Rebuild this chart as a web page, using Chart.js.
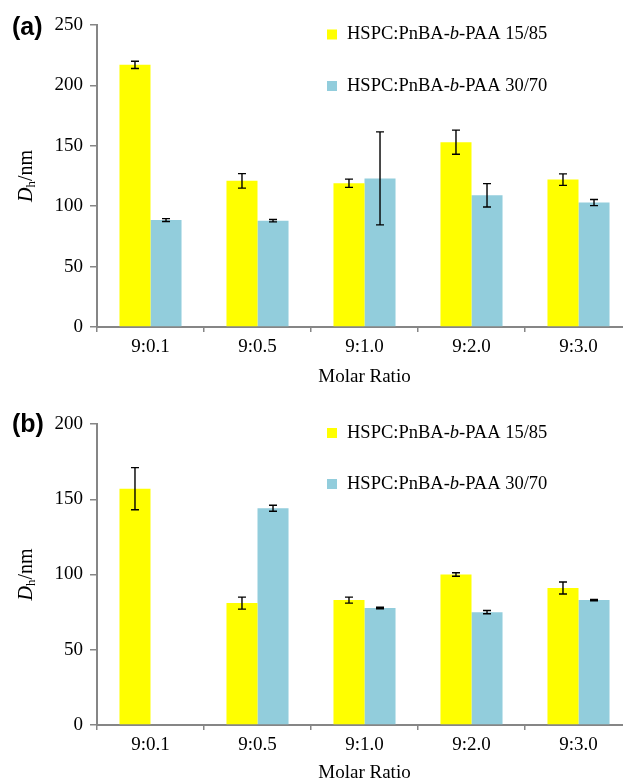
<!DOCTYPE html>
<html>
<head>
<meta charset="utf-8">
<script src="https://cdn.jsdelivr.net/npm/chart.js@4"></script>
<style>
  html, body { margin: 0; padding: 0; background: #fff; overflow: hidden; width: 623px; height: 784px; }
  .box { width: 640px; height: 392px; }
  canvas { display: block; }
</style>
</head>
<body>
<div class="box"><canvas id="chartA" width="640" height="392"></canvas></div>
<div class="box"><canvas id="chartB" width="640" height="392"></canvas></div>
<script>
const ratios = ["9:0.1", "9:0.5", "9:1.0", "9:2.0", "9:3.0"];
const seriesNames = ["HSPC:PnBA-b-PAA 15/85", "HSPC:PnBA-b-PAA 30/70"];

// panel (a)
const sizeA1585 = [217, 121, 119, 153, 122];
const errA1585 = [3, 6, 3.4, 10, 4.8];
const sizeA3070 = [88.5, 88, 123, 109, 103];
const errA3070 = [1.2, 1, 38.5, 9.7, 2.5];
const ticksA = [0, 50, 100, 150, 200, 250];

// panel (b)
const sizeB1585 = [157, 81, 83, 100, 91];
const errB1585 = [14, 4, 2, 1.2, 4];
const sizeB3070 = [null, 144, 77.7, 75, 83];
const errB3070 = [null, 2, 0.5, 1.1, 0.4];
const ticksB = [0, 50, 100, 150, 200];

const colors = ["#FFFF00", "#92CDDC"];
const axisGray = "#868686";
const serif = '"Liberation Serif", "Times New Roman", serif';

// draws a row of text pieces with their own fonts, returns the width
function richText(ctx, x, y, parts, measureOnly) {
  let w = 0;
  parts.forEach(p => {
    ctx.font = p.font;
    if (!measureOnly) ctx.fillText(p.text, x + w, y + (p.dy || 0));
    w += ctx.measureText(p.text).width;
  });
  return w;
}

function labelParts(name) {
  const i = name.indexOf("-b-");
  return [
    { font: "18.5px " + serif, text: name.slice(0, i + 1) },
    { font: "italic 18.5px " + serif, text: "b" },
    { font: "18.5px " + serif, text: name.slice(i + 2) }
  ];
}

const errorBars = {
  id: "errorBars",
  afterDatasetsDraw(chart) {
    const ctx = chart.ctx, y = chart.scales.y;
    ctx.save();
    ctx.strokeStyle = "#000";
    ctx.lineWidth = 1.4;
    chart.data.datasets.forEach((ds, di) => {
      const meta = chart.getDatasetMeta(di);
      ds.errors.forEach((e, i) => {
        const v = ds.data[i];
        if (v == null || e == null) return;
        const x = meta.data[i].x;
        const top = y.getPixelForValue(v + e);
        const bot = y.getPixelForValue(v - e);
        ctx.beginPath();
        ctx.moveTo(x, top); ctx.lineTo(x, bot);
        ctx.moveTo(x - 4, top); ctx.lineTo(x + 4, top);
        ctx.moveTo(x - 4, bot); ctx.lineTo(x + 4, bot);
        ctx.stroke();
      });
    });
    ctx.restore();
  }
};

const decor = {
  id: "decor",
  afterDraw(chart, args, o) {
    const ctx = chart.ctx, area = chart.chartArea;
    ctx.save();
    ctx.fillStyle = "#000";
    ctx.textBaseline = "middle";
    ctx.textAlign = "left";

    // panel letter
    ctx.font = 'bold 25px "Liberation Sans", Arial, sans-serif';
    ctx.fillText(o.panel, 12, o.panelY);

    // legend
    chart.data.datasets.forEach((ds, i) => {
      const ly = o.legendY[i];
      ctx.fillStyle = ds.backgroundColor;
      ctx.fillRect(327, ly - 5, 10, 10);
      ctx.fillStyle = "#000";
      richText(ctx, 347, ly, labelParts(ds.label));
    });

    // y axis title: D_h/nm
    const parts = [
      { font: "italic 20px " + serif, text: "D" },
      { font: "13px " + serif, text: "h", dy: 5 },
      { font: "20px " + serif, text: "/nm" }
    ];
    ctx.translate(27, (area.top + area.bottom) / 2);
    ctx.rotate(-Math.PI / 2);
    const w = richText(ctx, 0, 0, parts, true);
    richText(ctx, -w / 2, 0, parts);
    ctx.restore();
  }
};

function makeChart(id, s1, e1, s2, e2, ticks, maxY, padTop, xHeight, titleBottom, panel, panelY, legendY) {
  return new Chart(document.getElementById(id), {
    type: "bar",
    data: {
      labels: ratios,
      datasets: [
        { label: seriesNames[0], data: s1, errors: e1, backgroundColor: colors[0], borderWidth: 0 },
        { label: seriesNames[1], data: s2, errors: e2, backgroundColor: colors[1], borderWidth: 0 }
      ]
    },
    options: {
      responsive: false,
      animation: false,
      categoryPercentage: 0.58,
      barPercentage: 1.0,
      layout: { padding: { top: padTop, right: 8, left: 0, bottom: 0 } },
      plugins: {
        legend: { display: false },
        tooltip: { enabled: false },
        decor: { panel: panel, panelY: panelY, legendY: legendY }
      },
      scales: {
        x: {
          border: { color: axisGray, width: 2 },
          grid: { display: true, drawOnChartArea: false, offset: true, tickLength: 5, color: axisGray, lineWidth: 1.5 },
          ticks: { font: { family: serif, size: 19 }, color: "#000", padding: 4 },
          title: { display: true, text: "Molar Ratio", font: { family: serif, size: 19 }, color: "#000", padding: { top: 0, bottom: titleBottom } },
          afterFit: s => { s.height = xHeight; }
        },
        y: {
          min: 0,
          max: maxY,
          afterBuildTicks: s => { s.ticks = ticks.map(v => ({ value: v })); },
          border: { color: axisGray, width: 2 },
          grid: { display: true, drawOnChartArea: false, tickLength: 7, color: axisGray, lineWidth: 1.5 },
          ticks: { font: { family: serif, size: 19 }, color: "#000", padding: 7 },
          afterFit: s => { s.width = 97; }
        }
      }
    },
    plugins: [errorBars, decor]
  });
}

makeChart("chartA", sizeA1585, errA1585, sizeA3070, errA3070, ticksA, 250, 25, 65, 4, "(a)", 28.5, [34.5, 86]);
makeChart("chartB", sizeB1585, errB1585, sizeB3070, errB3070, ticksB, 200, 32, 59, 0, "(b)", 33, [41, 92]);
</script>
</body>
</html>
